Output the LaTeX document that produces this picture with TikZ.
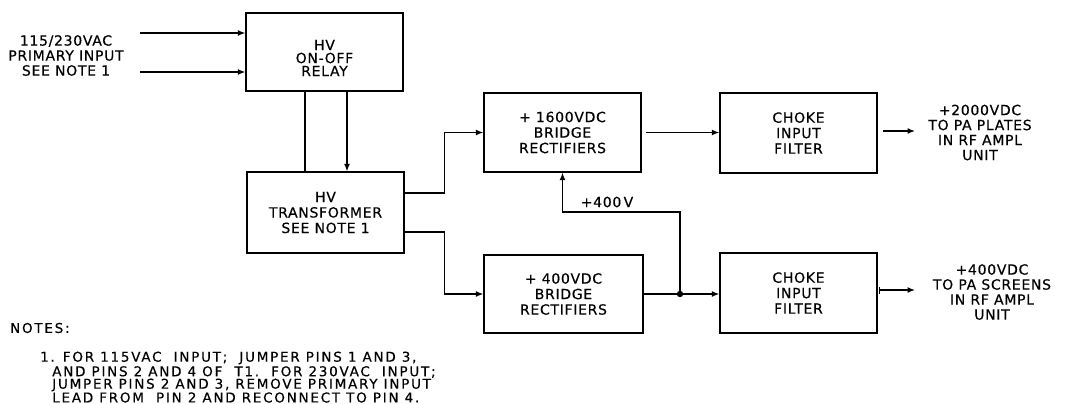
\documentclass[tikz,border=0pt]{standalone}
\usepackage{fontspec}
\setmainfont{DejaVu Sans}[LetterSpace=5,FakeBold=0.4]
\newfontfamily\notefont{DejaVu Sans}[LetterSpace=13,FakeBold=0.4]
\usetikzlibrary{arrows.meta,calc}
\begin{document}
\begin{tikzpicture}[x=1pt,y=-1pt,
  blk/.style={draw,line width=1.3pt,inner sep=0pt,align=center,
    font=\fontsize{14}{15.5}\selectfont},
  lbl/.style={inner sep=0pt,align=center,font=\fontsize{14}{15}\selectfont},
  wire/.style={line width=1.3pt},
  arr/.style={wire,-{Latex[length=7.5pt,width=6pt]}},
  notetxt/.style={inner sep=0pt,anchor=west,font=\notefont\fontsize{13.5}{13.5}\selectfont}]
\useasboundingbox (0,0) rectangle (1065,404);
% boxes
\node[blk,minimum width=157pt,minimum height=78pt,
  label={[lbl,font=\fontsize{14}{13}\selectfont,yshift=-6pt]center:HV\\ON-OFF\\RELAY}] (relay) at (324.5,52) {};
\node[blk,minimum width=157pt,minimum height=81pt] (tr) at (325.5,212.5) {HV\\TRANSFORMER\\SEE NOTE 1};
\node[blk,minimum width=157pt,minimum height=79pt] (b16) at (562.5,132.5) {+ 1600VDC\\BRIDGE\\RECTIFIERS};
\node[blk,minimum width=159pt,minimum height=78pt] (b4) at (563.5,294) {+ 400VDC\\BRIDGE\\RECTIFIERS};
\node[blk,minimum width=157pt,minimum height=80pt] (c1) at (798.5,133) {CHOKE\\INPUT\\FILTER};
\node[blk,minimum width=157pt,minimum height=80pt] (c2) at (798.5,293) {CHOKE\\INPUT\\FILTER};
% input
\node[lbl] (inp) at (66,55.5) {115/230VAC\\PRIMARY INPUT\\SEE NOTE 1};
\coordinate (ina) at (140,33);
\coordinate (inb) at (140,72);
\draw[arr] (ina) -- (ina -| relay.west);
\draw[arr] (inb) -- (inb -| relay.west);
% relay to transformer
\draw[wire] ([xshift=-19.5pt]relay.south) -- ([xshift=-20.5pt]tr.north);
\draw[arr] ([xshift=22.5pt]relay.south) -- ([xshift=21.5pt]tr.north);
% transformer to rectifiers
\draw[arr] ([yshift=19.5pt]tr.east) -- ++(40,0) |- (b16.west);
\draw[arr] ([yshift=-19.5pt]tr.east) -- ++(40,0) |- (b4.west);
% rectifiers to chokes
\draw[arr] ([xshift=4pt]b16.east) -- (c1.west |- b16.east);
\draw[arr] (b4.east) -- (c2.west |- b4.east);
\coordinate (jn) at (680,294);
\coordinate (kink) at (680,212);
\fill (jn) circle (3.2pt);
\draw[arr] (jn) -- (kink) -| (b16.south);
\node[lbl,anchor=center] (v400) at (607,202) {+400\,V};
% outputs
\node[lbl] (o1) at (980,132.5) {+2000VDC\\TO PA PLATES\\IN RF AMPL\\UNIT};
\node[lbl] (o2) at (992,292) {+400VDC\\TO PA\ SCREENS\\IN RF AMPL\\UNIT};
\coordinate (o1e) at (915,131);
\coordinate (o2e) at (915,290);
\draw[arr] ([xshift=5pt]c1.east |- o1e) -- (o1e);
\draw[wire,{Bar[width=7pt]}-{Latex[length=7.5pt,width=6pt]}] ([xshift=1pt]c2.east |- o2e) -- (o2e);
% notes
\node[notetxt] (nh) at (10,328) {NOTES:};
\node[notetxt] (n1) at (40,358) {1. FOR 115VAC\ \ INPUT;\ \ JUMPER PINS 1 AND 3,};
\node[notetxt] (n2) at (40,372) {\ \ AND PINS 2 AND 4 OF\ \ T1.\ \ FOR 230VAC\ \ INPUT;};
\node[notetxt] (n3) at (40,385) {\ \ JUMPER PINS 2 AND 3, REMOVE PRIMARY INPUT};
\node[notetxt] (n4) at (40,397.5) {\ \ LEAD FROM\ \ PIN 2 AND RECONNECT TO PIN 4.};
\end{tikzpicture}
\end{document}
